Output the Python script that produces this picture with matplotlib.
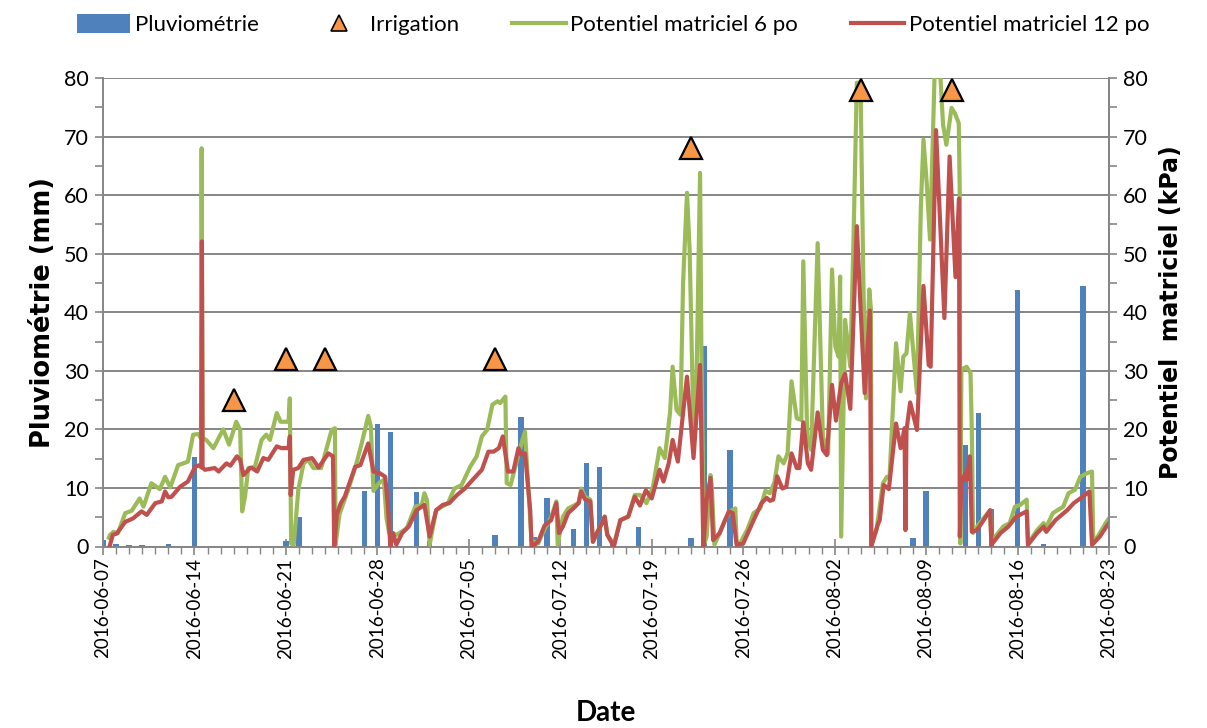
import numpy as np
import pandas as pd
import matplotlib
matplotlib.use("Agg")
import matplotlib.pyplot as plt
import matplotlib.dates as mdates
from matplotlib.ticker import MultipleLocator
from matplotlib.patches import Patch
from matplotlib.lines import Line2D

plt.rcParams['font.family'] = ['Lato', 'DejaVu Sans']

START = "2016-06-07"
END = "2016-08-23"

# Pluviométrie (mm) — day offset from START, value
rain_day = [0, 1, 2, 3, 5, 7, 14, 15, 20, 21, 22, 24, 25, 30, 32, 33, 34, 36, 37, 38,
            39, 41, 45, 46, 48, 62, 63, 66, 67, 68, 70, 72, 75]
rain_mm = [1.1, 0.4, 0.2, 0.3, 0.5, 15.2, 1.0, 5.0, 9.5, 21.0, 19.5, 9.3, 1.0, 2.0, 22.1, 1.7,
           8.3, 3.0, 14.2, 13.6, 0.6, 3.3, 1.5, 34.3, 16.4, 1.4, 9.4, 17.3, 22.8, 6.4, 43.8,
           0.4, 44.4]

# Irrigation events
irr_day = [10, 14, 17, 30, 45, 58, 65]
irr_val = [25, 32, 32, 32, 68, 78, 78]

# Potentiel matriciel 6 po (kPa)
g_day = [0.45, 0.55, 0.8, 1.15, 1.7, 2.2, 2.8, 3.1, 3.7, 4.1, 4.35, 4.75, 5.15, 5.75, 6.15,
         6.5, 6.9, 7.3, 7.5, 7.55, 7.62, 7.9, 8.45, 9.2, 9.65, 10.2, 10.5, 10.65, 10.87,
         11.12, 11.63, 12.14, 12.5, 12.78, 13.3, 13.6, 14.2, 14.3, 14.4, 14.6, 14.95, 15.35,
         15.7, 16.1, 16.7, 17.5, 17.75, 17.8, 18.1, 18.8, 19.4, 19.8, 20.3, 20.5, 20.7, 21.1,
         21.5, 21.7, 21.9, 22.5, 23.25, 23.9, 24.4, 24.6, 24.8, 25.0, 25.5, 26.4, 26.9,
         27.45, 28.1, 28.6, 29.0, 29.4, 29.8, 30.2, 30.4, 30.8, 30.9, 31.2, 31.5, 32.1, 32.3,
         32.5, 32.8, 33.3, 33.8, 34.3, 34.7, 34.8, 35.2, 35.6, 36.4, 36.6, 36.9, 37.3, 37.5,
         37.8, 38.2, 38.4, 38.6, 39.1, 39.6, 40.2, 40.7, 41.1, 41.6, 42.1, 42.6, 43.0, 43.4,
         43.6, 43.9, 44.2, 44.4, 44.7, 44.9, 45.2, 45.4, 45.7, 45.8, 46.0, 46.2, 46.5, 46.6,
         46.8, 47.2, 47.6, 48.0, 48.4, 48.5, 48.75, 49.3, 49.8, 50.3, 50.7, 51.05, 51.4,
         51.7, 52.1, 52.4, 52.7, 53.1, 53.45, 53.6, 53.9, 54.2, 54.7, 55.1, 55.5, 55.8,
         56.05, 56.3, 56.42, 56.5, 56.8, 57.2, 57.45, 57.7, 57.98, 58.2, 58.4, 58.65, 58.78,
         58.82, 59.2, 59.7, 60.0, 60.2, 60.7, 61.05, 61.25, 61.5, 61.76, 62.3, 62.6, 62.8,
         63.05, 63.3, 63.65, 63.85, 64.05, 64.3, 64.55, 64.95, 65.2, 65.5, 65.58, 65.62,
         65.7, 66.1, 66.4, 66.5, 66.6, 67.0, 67.9, 68.0, 68.3, 68.9, 69.4, 69.8, 70.2, 70.7,
         70.8, 71.5, 72.0, 72.1, 72.7, 73.5, 73.9, 74.4, 74.8, 75.3, 75.7, 75.8, 76.3, 76.8,
         77.0]
g_val = [1.5, 2.0, 2.5, 2.3, 5.7, 6.1, 8.2, 6.8, 10.8, 10.2, 9.8, 11.9, 10.1, 13.9, 14.2,
         14.5, 19.1, 19.2, 18.5, 68.0, 18.5, 18.2, 16.8, 20.0, 17.4, 21.3, 19.9, 6.0, 8.5,
         13.4, 13.6, 18.2, 19.1, 18.2, 22.8, 21.3, 21.3, 25.3, 0.5, 0.3, 9.7, 14.2,
         14.8, 13.4, 13.4, 19.9, 20.2, 0.3, 5.5, 9.9, 14.2, 17.6, 22.3, 20.5, 9.5, 10.8,
         11.4, 4.8, 2.3, 2.0, 3.1, 6.8, 7.1, 9.1, 7.9, 0.3, 6.2, 7.4, 9.9,
         10.5, 13.6, 15.4, 18.8, 19.9, 24.2, 24.8, 24.5, 25.6, 10.8, 10.5, 13.1, 18.2, 19.6,
         12.0, 1.0, 0.5, 3.0, 5.0, 7.7, 0.3, 5.1, 6.5, 7.4, 9.9, 8.5, 8.0, 0.8,
         2.3, 4.0, 5.1, 2.0, 0.3, 4.5, 5.1, 8.8, 8.8, 7.4, 10.2, 16.8, 15.1, 22.8,
         30.7, 23.3, 22.5, 45.0, 60.4, 50.7, 19.6, 25.0, 63.8, 33.6, 0.3, 1.7, 12.2, 10.2,
         0.3, 2.3, 4.5, 6.0, 6.5, 0.5, 0.5, 2.8, 5.7, 6.5, 9.5, 9.1, 11.0,
         15.4, 14.2, 15.9, 28.2, 21.9, 21.6, 48.7, 18.8, 16.5, 51.8, 18.8, 15.9, 47.3,
         34.2, 32.4, 46.1, 1.7, 38.7, 30.7, 53.0, 79.2, 79.2, 45.0, 25.3, 43.9, 40.4,
         0.3, 2.8, 10.8, 11.9, 11.7, 34.7, 26.5, 32.4, 33.0, 39.9, 26.2, 58.0, 69.5,
         62.0, 52.4, 80.5, 86.0, 82.0, 72.0, 68.6, 74.9, 74.0, 72.3, 59.8, 0.5,
         30.2, 30.7, 29.6, 19.9, 2.3, 3.7, 6.2, 0.5, 1.7, 3.4, 4.0, 6.8, 7.1, 8.0,
         0.5, 2.8, 4.0, 2.8, 5.7, 6.8, 9.1, 9.7, 11.9, 12.5, 12.8, 0.5, 2.3, 4.2,
         4.8]

# Potentiel matriciel 12 po (kPa)
r_day = [0.5, 0.75, 1.05, 1.7, 2.3, 2.95, 3.35, 4.0, 4.5, 4.75, 5.0, 5.25, 5.9, 6.5, 7.05,
         7.4, 7.52, 7.57, 7.62, 7.8, 8.55, 8.85, 9.45, 9.75, 10.25, 10.5, 10.75, 11.25, 11.4,
         11.8, 12.27, 12.65, 13.3, 13.65, 14.2, 14.3, 14.36, 14.56, 14.95, 15.35, 16.0, 16.5,
         17.25, 17.6, 17.7, 17.9, 18.2, 18.5, 19.3, 19.7, 20.3, 20.7, 21.2, 21.6, 21.8, 22.0,
         22.2, 22.45, 22.9, 23.4, 24.0, 24.6, 25.0, 25.5, 26.0, 26.5, 27.1, 27.7, 28.3, 29.0,
         29.5, 29.9, 30.3, 30.6, 31.0, 31.4, 31.8, 32.0, 32.3, 32.7, 32.8, 33.3, 33.8, 34.3,
         34.7, 34.9, 35.2, 35.6, 36.0, 36.4, 36.6, 36.9, 37.3, 37.5, 37.8, 38.2, 38.4, 38.6,
         39.1, 39.6, 40.2, 40.7, 41.1, 41.55, 42.0, 42.6, 42.9, 43.3, 43.6, 44.0, 44.7, 45.2,
         45.7, 45.95, 46.2, 46.5, 46.7, 47.2, 47.9, 48.2, 48.5, 49.0, 49.8, 50.4, 50.8, 51.05,
         51.3, 51.6, 52.0, 52.3, 52.7, 53.1, 53.3, 53.6, 53.95, 54.2, 54.7, 55.1, 55.4, 55.8,
         56.1, 56.5, 56.8, 57.2, 57.7, 58.0, 58.3, 58.7, 58.8, 59.3, 59.45, 59.75, 60.15,
         60.7, 61.05, 61.35, 61.42, 61.5, 61.78, 62.3, 62.8, 63.2, 63.35, 63.76, 64.4, 64.8,
         65.25, 65.52, 65.58, 65.7, 66.0, 66.1, 66.35, 66.5, 66.9, 67.9, 68.0, 68.7, 69.3,
         69.9, 70.7, 70.8, 71.5, 72.0, 72.2, 72.9, 73.8, 74.3, 74.8, 75.5, 75.7, 76.3, 76.8,
         77.0]
r_val = [0.0, 2.0, 2.2, 4.2, 4.8, 6.0, 5.4, 7.4, 7.7, 9.4, 8.4, 8.5, 10.2, 11.1, 13.6,
         13.9, 13.5, 52.1, 13.5, 13.1, 13.4, 12.8, 14.2, 13.8, 15.4, 14.8, 12.2, 13.4, 13.4,
         12.8, 15.1, 14.8, 17.1, 16.8, 16.8, 18.8, 8.8, 13.1, 13.4, 14.8, 15.1, 13.5,
         15.9, 15.4, 0.0, 5.5, 7.4, 8.5, 13.6, 13.9, 17.6, 12.8, 12.5, 11.9, 7.1, 0.0,
         2.3, 0.3, 2.3, 3.4, 6.2, 7.1, 1.7, 6.2, 7.1, 7.4, 8.8, 9.9, 11.4, 13.1,
         16.2, 16.2, 16.8, 18.8, 12.8, 12.8, 16.8, 15.7, 15.9, 6.2, 0.0, 0.8, 3.6, 4.5,
         7.4, 2.3, 3.4, 5.7, 6.5, 7.4, 9.4, 8.0, 7.7, 0.8, 2.3, 4.0, 5.1, 2.0,
         0.0, 4.5, 5.1, 8.5, 7.0, 9.6, 8.2, 13.1, 11.1, 14.2, 18.2, 14.5, 29.0, 15.1,
         31.0, 0.0, 8.0, 11.7, 1.1, 2.3, 6.0, 5.7, 0.3, 0.5, 4.5, 7.4, 8.3, 7.8,
         8.0, 12.0, 9.9, 10.2, 15.9, 13.4, 13.4, 21.2, 14.2, 13.1, 22.9, 16.5, 15.6, 27.6,
         21.5, 27.9, 29.5, 23.5, 54.7, 40.0, 26.2, 40.3, 0.0, 3.7, 4.5, 10.5, 9.8,
         21.0, 16.8, 20.2, 2.8, 19.9, 24.6, 19.9, 44.5, 31.0, 30.7, 71.1, 39.0, 66.6,
         46.0, 59.4, 1.7, 10.8, 12.5, 11.4, 15.4, 2.5, 2.8, 6.2, 0.3, 2.3, 3.4,
         5.1, 6.0, 0.3, 2.3, 3.4, 2.5, 4.5, 6.2, 7.4, 8.2, 9.4, 0.3, 1.7, 3.4,
         4.0]

BLUE = "#4F81BD"
GREEN = "#9BBB59"
RED = "#C0504D"
ORANGE = "#F79646"
GRID = "#868686"

t0 = pd.Timestamp(START)
def to_dates(days):
    return t0 + pd.to_timedelta(np.asarray(days, dtype=float), unit="D")

fig = plt.figure(figsize=(12.07, 7.28), dpi=100)
ax = fig.add_axes([103/1207, 1 - 546.5/728, (1109-103)/1207, (546.5-78)/728])

ax.bar(to_dates(rain_day), rain_mm, width=0.42, color=BLUE, zorder=2)
ax.plot(to_dates(g_day), g_val, color=GREEN, lw=3.0, zorder=3, solid_joinstyle="round")
ax.plot(to_dates(r_day), r_val, color=RED, lw=3.0, zorder=4, solid_joinstyle="round")
ax.plot(to_dates(irr_day), irr_val, linestyle="none", marker="^", ms=16,
        mfc=ORANGE, mec="black", mew=1.6, zorder=6, clip_on=False)

ax.set_xlim(pd.Timestamp(START), pd.Timestamp(END))
ax.set_ylim(0, 80)
ax.yaxis.set_major_locator(MultipleLocator(10))
ax.yaxis.set_minor_locator(MultipleLocator(5))
ticks = pd.date_range(START, END, freq="7D")
ax.set_xticks(ticks)
ax.xaxis.set_major_formatter(mdates.DateFormatter("%Y-%m-%d"))
ax.xaxis.set_minor_locator(mdates.DayLocator())
ax.grid(axis="y", which="major", color=GRID, lw=1.4, zorder=0)
ax.set_axisbelow(True)

ax.spines["top"].set_visible(False)
for s in ["left", "right", "bottom"]:
    ax.spines[s].set_color(GRID)
    ax.spines[s].set_linewidth(1.4)

ax.tick_params(axis="y", which="both", direction="out", length=6, color=GRID, width=1.2,
               labelsize=15.5, pad=4)
ax.tick_params(axis="x", which="major", direction="inout", length=12, color=GRID, width=1.2,
               labelsize=13.5, labelrotation=90, pad=2)
ax.tick_params(axis="x", which="minor", direction="out", length=5, color=GRID, width=1.0)

ax2 = ax.twinx()
ax2.set_ylim(0, 80)
ax2.yaxis.set_major_locator(MultipleLocator(10))
ax2.yaxis.set_minor_locator(MultipleLocator(5))
ax2.tick_params(axis="y", which="both", direction="out", length=6, color=GRID, width=1.2,
                labelsize=15.5, pad=4)
for s in ["top", "left", "bottom"]:
    ax2.spines[s].set_visible(False)
ax2.spines["right"].set_color(GRID)
ax2.spines["right"].set_linewidth(1.4)

ax.set_ylabel("Pluviométrie (mm)", fontsize=18.5, fontweight="bold", labelpad=6,
              family=["DejaVu Sans"])
ax2.set_ylabel("Potentiel  matriciel (kPa)", fontsize=17, fontweight="bold", labelpad=8,
               family=["DejaVu Sans"])
ax.set_xlabel("Date", fontsize=20, fontweight="bold", labelpad=30)

handles = [
    Patch(facecolor=BLUE, edgecolor="none"),
    Line2D([], [], linestyle="none", marker="^", ms=11, mfc=ORANGE, mec="black", mew=1.2),
    Line2D([], [], color=GREEN, lw=3),
    Line2D([], [], color=RED, lw=3),
]
labels = ["Pluviométrie", "Irrigation", "Potentiel matriciel 6 po", "Potentiel matriciel 12 po"]
fig.legend(handles, labels, loc="upper center", bbox_to_anchor=(0.508, 1.008), ncol=4,
           frameon=False, fontsize=16, handlelength=2.4, handletextpad=0.2,
           columnspacing=2.4, handleheight=0.9)

fig.savefig("out.png", dpi=100)
